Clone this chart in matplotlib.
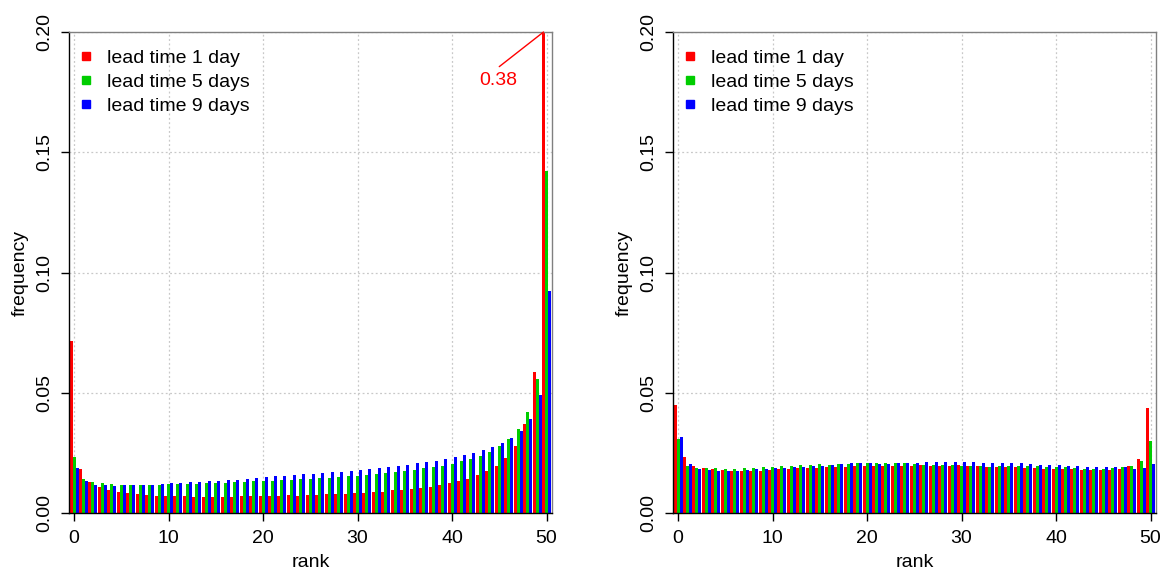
import matplotlib
matplotlib.use("Agg")
import matplotlib.pyplot as plt
from matplotlib.lines import Line2D
import numpy as np

plt.rcParams['font.family'] = ['Liberation Sans', 'DejaVu Sans']

ranks = list(range(51))
series_labels = ["lead time 1 day", "lead time 5 days", "lead time 9 days"]
colors = ["#FF0000", "#00CD00", "#0000FF"]

# Left panel (raw)
left_1d = [0.0714, 0.0182, 0.0129, 0.0107, 0.0094, 0.0089, 0.0082, 0.0078, 0.0074, 0.0072,
           0.0071, 0.0069, 0.0069, 0.0068, 0.0067, 0.0067, 0.0067, 0.0067, 0.0069, 0.0069,
           0.0069, 0.0069, 0.0069, 0.0074, 0.0072, 0.0074, 0.0074, 0.0078, 0.0079, 0.0079,
           0.0082, 0.0083, 0.0086, 0.0089, 0.0094, 0.0096, 0.0100, 0.0106, 0.0110, 0.0117,
           0.0124, 0.0133, 0.0143, 0.0157, 0.0174, 0.0194, 0.0228, 0.0278, 0.0368, 0.0588,
           0.38]
left_5d = [0.0233, 0.0140, 0.0129, 0.0124, 0.0119, 0.0118, 0.0115, 0.0117, 0.0117, 0.0118,
           0.0119, 0.0121, 0.0122, 0.0122, 0.0124, 0.0125, 0.0126, 0.0128, 0.0129, 0.0132,
           0.0133, 0.0133, 0.0136, 0.0138, 0.0142, 0.0143, 0.0146, 0.0147, 0.0149, 0.0153,
           0.0154, 0.0157, 0.0161, 0.0165, 0.0169, 0.0174, 0.0178, 0.0186, 0.0190, 0.0197,
           0.0204, 0.0215, 0.0226, 0.0238, 0.0254, 0.0278, 0.0307, 0.0349, 0.0418, 0.0557,
           0.1420]
left_9d = [0.0186, 0.0132, 0.0117, 0.0115, 0.0113, 0.0115, 0.0115, 0.0117, 0.0118, 0.0121,
           0.0124, 0.0125, 0.0128, 0.0129, 0.0132, 0.0135, 0.0136, 0.0139, 0.0143, 0.0144,
           0.0149, 0.0153, 0.0154, 0.0157, 0.0161, 0.0161, 0.0165, 0.0169, 0.0172, 0.0176,
           0.0178, 0.0183, 0.0188, 0.0190, 0.0197, 0.0200, 0.0207, 0.0211, 0.0217, 0.0224,
           0.0232, 0.0240, 0.0250, 0.0261, 0.0274, 0.0290, 0.0311, 0.0342, 0.0389, 0.0489,
           0.0924]

# Right panel (calibrated)
right_1d = [0.0449, 0.0232, 0.0197, 0.0186, 0.0182, 0.0178, 0.0176, 0.0175, 0.0176, 0.0176,
            0.0178, 0.0182, 0.0185, 0.0186, 0.0188, 0.0188, 0.0190, 0.0192, 0.0193, 0.0194,
            0.0194, 0.0194, 0.0196, 0.0196, 0.0197, 0.0196, 0.0199, 0.0197, 0.0197, 0.0197,
            0.0199, 0.0194, 0.0194, 0.0192, 0.0193, 0.0190, 0.0190, 0.0186, 0.0188, 0.0185,
            0.0182, 0.0182, 0.0181, 0.0178, 0.0178, 0.0178, 0.0178, 0.0182, 0.0194, 0.0224,
            0.0436]
right_5d = [0.0307, 0.0197, 0.0189, 0.0186, 0.0186, 0.0182, 0.0185, 0.0189, 0.0189, 0.0190,
            0.0193, 0.0196, 0.0197, 0.0200, 0.0200, 0.0203, 0.0201, 0.0203, 0.0203, 0.0206,
            0.0206, 0.0206, 0.0206, 0.0206, 0.0206, 0.0203, 0.0201, 0.0199, 0.0201, 0.0200,
            0.0196, 0.0194, 0.0194, 0.0193, 0.0194, 0.0194, 0.0194, 0.0194, 0.0194, 0.0192,
            0.0192, 0.0190, 0.0186, 0.0185, 0.0185, 0.0185, 0.0188, 0.0190, 0.0194, 0.0215,
            0.0299]
right_9d = [0.0318, 0.0203, 0.0182, 0.0178, 0.0174, 0.0175, 0.0175, 0.0178, 0.0182, 0.0183,
            0.0186, 0.0189, 0.0190, 0.0193, 0.0196, 0.0197, 0.0200, 0.0203, 0.0206, 0.0206,
            0.0207, 0.0204, 0.0204, 0.0207, 0.0207, 0.0207, 0.0211, 0.0210, 0.0210, 0.0211,
            0.0210, 0.0211, 0.0208, 0.0208, 0.0206, 0.0206, 0.0206, 0.0204, 0.0201, 0.0201,
            0.0199, 0.0197, 0.0194, 0.0192, 0.0190, 0.0190, 0.0193, 0.0190, 0.0182, 0.0188,
            0.0204]

x_ticks = [0, 10, 20, 30, 40, 50]
y_ticks = [0.00, 0.05, 0.10, 0.15, 0.20]
y_tick_labels = ["0.00", "0.05", "0.10", "0.15", "0.20"]

fig = plt.figure(figsize=(11.62, 5.74), dpi=100)
ax1 = fig.add_axes([69/1162, 61/574, 483/1162, 481/574])
ax2 = fig.add_axes([673/1162, 61/574, 483/1162, 481/574])

w = 0.317
fs = 14

def draw(ax, data, annotate=False):
    x = np.array(ranks, dtype=float)
    for i, (vals, c) in enumerate(zip(data, colors)):
        ax.bar(x + (i - 1) * w, vals, width=w, color=c, edgecolor='none', zorder=2)
    ax.set_xlim(-0.53, 50.58)
    ax.set_ylim(0, 0.2)
    ax.set_xticks(x_ticks)
    ax.set_xticklabels([str(t) for t in x_ticks], fontsize=fs)
    ax.set_yticks(y_ticks)
    ax.set_yticklabels(y_tick_labels, fontsize=fs, rotation=90, va='center')
    ax.tick_params(direction='out', length=6, width=1, color='black')
    ax.tick_params(axis='x', pad=6)
    ax.tick_params(axis='y', pad=5)
    ax.grid(True, linestyle=(0, (1.5, 2)), color='#C8C8C8', linewidth=0.9, zorder=0)
    ax.set_axisbelow(True)
    for s in ['left', 'bottom']:
        ax.spines[s].set_color('black')
        ax.spines[s].set_linewidth(1)
    for s in ['top', 'right']:
        ax.spines[s].set_color('#808080')
        ax.spines[s].set_linewidth(1)
    ax.set_xlabel("rank", fontsize=fs, labelpad=5)
    ax.set_ylabel("frequency", fontsize=fs, labelpad=6)
    handles = [Line2D([], [], marker='s', ls='', color=c, markersize=6) for c in colors]
    ax.legend(handles, series_labels, loc='upper left', frameon=False, fontsize=fs,
              handlelength=0.7, handletextpad=0.75, labelspacing=0.32,
              borderaxespad=0.0, bbox_to_anchor=(0.005, 0.98))
    if annotate:
        top = data[0][50]
        ax.annotate("", xy=(50 - w, 0.2), xytext=(45.0, 0.1856),
                    arrowprops=dict(arrowstyle='-', color='#FF0000', lw=1,
                                    shrinkA=0, shrinkB=0))
        ax.text(44.9, 0.1797, f"{top:.2f}", color='#FF0000', fontsize=fs,
                ha='center', va='center')

draw(ax1, [left_1d, left_5d, left_9d], annotate=True)
draw(ax2, [right_1d, right_5d, right_9d])

fig.savefig("out.png", dpi=100)
